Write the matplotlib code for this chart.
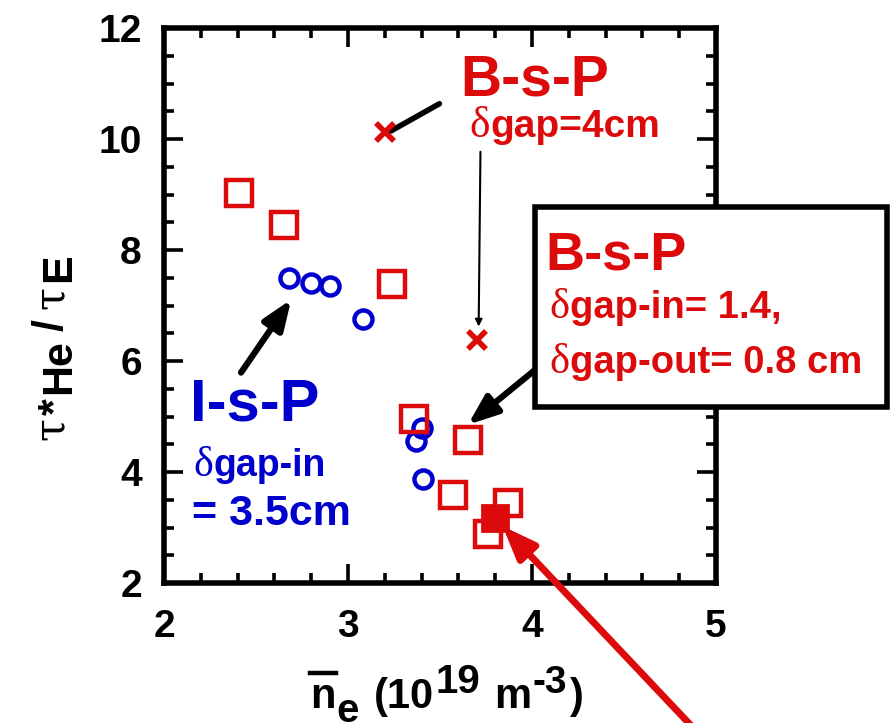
import matplotlib
matplotlib.use("Agg")
import matplotlib.pyplot as plt
from matplotlib.patches import Rectangle
from matplotlib.lines import Line2D
from matplotlib.ticker import MultipleLocator

plt.rcParams['font.family'] = ['Liberation Sans', 'DejaVu Sans']
plt.rcParams['font.weight'] = 'bold'

RED = '#dc0a0a'
BLUE = '#0000cc'

# B-s-P (delta_gap-in=1.4, out=0.8 cm), open squares
bsp_ne = [2.41, 2.65, 3.24, 3.36, 3.65, 3.57, 3.87, 3.76]
bsp_tau = [9.02, 8.45, 7.38, 4.95, 4.58, 3.58, 3.45, 2.88]
# highlighted point
hl_ne = [3.80]
hl_tau = [3.18]
# B-s-P (delta_gap=4cm), crosses
bsp4_ne = [3.20, 3.70]
bsp4_tau = [10.12, 6.37]
# I-s-P (delta_gap-in=3.5cm), circles
isp_ne = [2.68, 2.80, 2.90, 3.08, 3.40, 3.37, 3.41]
isp_tau = [7.50, 7.40, 7.35, 6.75, 4.80, 4.55, 3.88]

W, H = 893, 723
fig = plt.figure(figsize=(W / 100, H / 100), dpi=100)
ax = fig.add_axes([164 / W, 1 - 583 / H, 552 / W, 555 / H])
rend = fig.canvas.get_renderer()


def chain(x, y, pieces, color='black', rotation=0, zorder=11):
    # pieces: (text, size, serif, raise_px, gap_px); x, y in pixels from top-left
    pos = x if rotation == 0 else y
    out = []
    for s, size, serif, up, gap in pieces:
        fam = ['DejaVu Serif'] if serif else ['Liberation Sans']
        wt = 'normal' if serif else 'bold'
        if rotation == 0:
            t = fig.text(pos / W, 1 - (y - up) / H, s, fontsize=size, family=fam,
                         fontweight=wt, color=color, ha='left', va='baseline', zorder=zorder)
            bb = t.get_window_extent(rend)
            pos = bb.x1 + gap
        else:
            t = fig.text((x - up) / W, 1 - pos / H, s, fontsize=size, family=fam,
                         fontweight=wt, color=color, ha='left', va='baseline',
                         rotation=90, rotation_mode='anchor', zorder=zorder)
            bb = t.get_window_extent(rend)
            pos = H - bb.y1 - gap
        out.append(bb)
    return out


def delta_text(x, y, rest, size, color):
    t = fig.text(x / W, 1 - y / H, 'δ', fontsize=size * 1.12, family=['Liberation Serif'],
                 fontweight='normal', color=color, va='baseline', zorder=11)
    bb = t.get_window_extent(rend)
    fig.text((bb.x1 + 1) / W, 1 - y / H, rest, fontsize=size, fontweight='bold',
             color=color, va='baseline', zorder=11)


ax.plot(isp_ne, isp_tau, 'o', ms=13, mfc='none', mec=BLUE, mew=3.2, zorder=3)
ax.plot(bsp_ne, bsp_tau, 's', ms=19, mfc='none', mec=RED, mew=3.2, zorder=4)
ax.plot(hl_ne, hl_tau, 's', ms=19, mfc=RED, mec=RED, mew=2, zorder=5)
ax.plot(bsp4_ne, bsp4_tau, 'x', ms=13, mec=RED, mew=4, zorder=4)

ax.set_xlim(2, 5)
ax.set_ylim(2, 12)
ax.xaxis.set_major_locator(MultipleLocator(1))
ax.xaxis.set_minor_locator(MultipleLocator(0.2))
ax.yaxis.set_major_locator(MultipleLocator(2))
ax.yaxis.set_minor_locator(MultipleLocator(0.5))
ax.tick_params(which='both', direction='in', top=True, right=True, width=2.6, labelsize=28)
ax.tick_params(axis='x', pad=19)
ax.tick_params(axis='y', pad=16)
ax.tick_params(which='major', length=14)
ax.tick_params(which='minor', length=7.5)
for s in ax.spines.values():
    s.set_linewidth(4)
for lab in ax.get_xticklabels() + ax.get_yticklabels():
    lab.set_fontweight('bold')

# x label: n-bar_e (10^19 m^-3)
bbs = chain(310, 708, [('n', 30, False, 0, 1), ('e', 29, False, -14, 15),
                       ('(10', 30, False, 0, 1), ('19', 29, False, 15, 14),
                       ('m', 30, False, 0, 2), ('-3', 28, False, 15, 3),
                       (')', 30, False, 0, 0)])
nb = bbs[0]
ov_y = 1 - 673 / H
fig.lines.append(Line2D([nb.x0 / W, nb.x1 / W], [ov_y, ov_y],
                        transform=fig.transFigure, color='black', lw=3.2))

# y label: tau*_He / tau_E
chain(63, 440, [('τ', 30, True, 0, 2), ('*', 31, False, -4, 4), ('He', 31, False, -7, 8),
                ('/', 31, False, 0, 10), ('τ', 30, True, 0, 4), ('E', 31, False, -7, 0)],
      rotation=90)

# B-s-P 4cm annotation
fig.text(460 / W, 1 - 95 / H, 'B-s-P', color=RED, fontsize=41, fontweight='bold',
         va='baseline')
delta_text(469, 137, 'gap=4cm', 28, RED)
ax.annotate('', xy=(bsp4_ne[0] + 0.02, bsp4_tau[0]), xytext=(3.51, 10.66),
            arrowprops=dict(arrowstyle='-', color='black', lw=4))
ax.annotate('', xy=(bsp4_ne[1] + 0.01, bsp4_tau[1] + 0.2), xytext=(3.72, 9.82),
            arrowprops=dict(arrowstyle='-|>', color='black', lw=1.5, mutation_scale=10))

# I-s-P annotation
fig.text(190 / W, 1 - 420 / H, 'I-s-P', color=BLUE, fontsize=43, fontweight='bold',
         va='baseline')
delta_text(193, 476, 'gap-in', 27, BLUE)
fig.text(192 / W, 1 - 525 / H, '= 3.5cm', color=BLUE, fontsize=31, fontweight='bold',
         va='baseline')
ax.annotate('', xy=(2.70, 7.15), xytext=(2.41, 5.75),
            arrowprops=dict(arrowstyle='-|>,head_length=0.9,head_width=0.35', color='black',
                            lw=4.5, mutation_scale=20))

# boxed B-s-P annotation
box = Rectangle((535 / W, 1 - 407 / H), 352 / W, 200 / H, transform=fig.transFigure,
                facecolor='white', edgecolor='black', lw=4, zorder=10, clip_on=False)
fig.patches.append(box)
fig.text(545 / W, 1 - 270 / H, 'B-s-P', color=RED, fontsize=39, fontweight='bold',
         va='baseline', zorder=11)
delta_text(549, 318, 'gap-in= 1.4,', 27.5, RED)
delta_text(549, 373, 'gap-out= 0.8 cm', 27.5, RED)
ax.annotate('', xy=(3.64, 4.82), xytext=(4.05, 5.93),
            arrowprops=dict(arrowstyle='-|>,head_length=0.9,head_width=0.35', color='black',
                            lw=4.5, mutation_scale=20))

# red arrow to highlighted point, coming from outside the figure
ax.annotate('', xy=(hl_ne[0] + 0.03, hl_tau[0] - 0.12), xytext=(700, -12),
            textcoords='figure pixels', annotation_clip=False,
            arrowprops=dict(arrowstyle='-|>,head_length=0.9,head_width=0.35', color=RED,
                            lw=5, mutation_scale=22))

fig.savefig('out.png', dpi=100)
